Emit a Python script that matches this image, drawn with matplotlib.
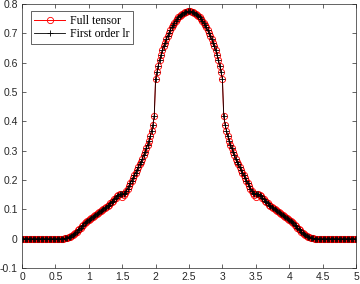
import matplotlib
matplotlib.use('Agg')
import matplotlib.pyplot as plt
import matplotlib.ticker as tkr
import numpy as np

# DATA
x_min, x_max, n_points = 0.0, 5.0, 251

full_tensor = [
    0, 0, 0, 0, 0, 0, 0, 0, 0, 0,
    0, 0, 0, 0, 0, 0, 0, 0, 0, 0,
    0, 0, 0, 0, 0, 0, 0, 0, 0, 0,
    0, 0.000, 0.001, 0.002, 0.003, 0.005, 0.007, 0.010, 0.013, 0.017,
    0.020, 0.024, 0.028, 0.032, 0.037, 0.042, 0.047, 0.052, 0.056, 0.060,
    0.064, 0.067, 0.070, 0.073, 0.077, 0.080, 0.083, 0.086, 0.090, 0.093,
    0.097, 0.101, 0.104, 0.108, 0.112, 0.116, 0.120, 0.125, 0.130, 0.135,
    0.140, 0.145, 0.149, 0.152, 0.152, 0.143, 0.150, 0.156, 0.163, 0.171,
    0.180, 0.189, 0.198, 0.207, 0.216, 0.225, 0.234, 0.243, 0.253, 0.262,
    0.272, 0.284, 0.296, 0.308, 0.320, 0.334, 0.350, 0.368, 0.389, 0.418,
    0.545, 0.568, 0.590, 0.609, 0.626, 0.642, 0.656, 0.668, 0.680, 0.691,
    0.701, 0.711, 0.720, 0.728, 0.736, 0.743, 0.749, 0.755, 0.760, 0.764,
    0.767, 0.770, 0.772, 0.774, 0.775, 0.775, 0.775, 0.774, 0.772, 0.770,
    0.767, 0.764, 0.760, 0.755, 0.749, 0.743, 0.736, 0.728, 0.720, 0.711,
    0.701, 0.691, 0.680, 0.668, 0.656, 0.642, 0.626, 0.609, 0.590, 0.568,
    0.545, 0.418, 0.389, 0.368, 0.350, 0.334, 0.320, 0.308, 0.296, 0.284,
    0.272, 0.262, 0.253, 0.243, 0.234, 0.225, 0.216, 0.207, 0.198, 0.189,
    0.180, 0.171, 0.163, 0.156, 0.150, 0.143, 0.152, 0.152, 0.149, 0.145,
    0.140, 0.135, 0.130, 0.125, 0.120, 0.116, 0.112, 0.108, 0.104, 0.101,
    0.097, 0.093, 0.090, 0.086, 0.083, 0.080, 0.077, 0.073, 0.070, 0.067,
    0.064, 0.060, 0.056, 0.052, 0.047, 0.042, 0.037, 0.032, 0.028, 0.024,
    0.020, 0.017, 0.013, 0.010, 0.007, 0.005, 0.003, 0.002, 0.001, 0.000,
    0, 0, 0, 0, 0, 0, 0, 0, 0, 0,
    0, 0, 0, 0, 0, 0, 0, 0, 0, 0,
    0, 0, 0, 0, 0, 0, 0, 0, 0, 0,
    0,
]

first_order_lr = [
    0, 0, 0, 0, 0, 0, 0, 0, 0, 0,
    0, 0, 0, 0, 0, 0, 0, 0, 0, 0,
    0, 0, 0, 0, 0, 0, 0, 0, 0, 0,
    0, 0.000, 0.001, 0.002, 0.003, 0.005, 0.007, 0.010, 0.013, 0.017,
    0.020, 0.024, 0.028, 0.032, 0.037, 0.042, 0.047, 0.052, 0.056, 0.060,
    0.064, 0.067, 0.070, 0.073, 0.077, 0.080, 0.083, 0.086, 0.090, 0.093,
    0.097, 0.101, 0.104, 0.108, 0.112, 0.116, 0.120, 0.125, 0.130, 0.135,
    0.140, 0.145, 0.149, 0.152, 0.153, 0.151, 0.152, 0.156, 0.163, 0.171,
    0.180, 0.189, 0.198, 0.207, 0.216, 0.225, 0.234, 0.243, 0.253, 0.262,
    0.272, 0.284, 0.296, 0.308, 0.320, 0.334, 0.350, 0.368, 0.389, 0.418,
    0.545, 0.568, 0.590, 0.609, 0.626, 0.642, 0.656, 0.668, 0.680, 0.691,
    0.701, 0.711, 0.720, 0.728, 0.736, 0.743, 0.749, 0.755, 0.760, 0.764,
    0.767, 0.770, 0.772, 0.774, 0.775, 0.775, 0.775, 0.774, 0.772, 0.770,
    0.767, 0.764, 0.760, 0.755, 0.749, 0.743, 0.736, 0.728, 0.720, 0.711,
    0.701, 0.691, 0.680, 0.668, 0.656, 0.642, 0.626, 0.609, 0.590, 0.568,
    0.545, 0.418, 0.389, 0.368, 0.350, 0.334, 0.320, 0.308, 0.296, 0.284,
    0.272, 0.262, 0.253, 0.243, 0.234, 0.225, 0.216, 0.207, 0.198, 0.189,
    0.180, 0.171, 0.163, 0.156, 0.152, 0.151, 0.153, 0.152, 0.149, 0.145,
    0.140, 0.135, 0.130, 0.125, 0.120, 0.116, 0.112, 0.108, 0.104, 0.101,
    0.097, 0.093, 0.090, 0.086, 0.083, 0.080, 0.077, 0.073, 0.070, 0.067,
    0.064, 0.060, 0.056, 0.052, 0.047, 0.042, 0.037, 0.032, 0.028, 0.024,
    0.020, 0.017, 0.013, 0.010, 0.007, 0.005, 0.003, 0.002, 0.001, 0.000,
    0, 0, 0, 0, 0, 0, 0, 0, 0, 0,
    0, 0, 0, 0, 0, 0, 0, 0, 0, 0,
    0, 0, 0, 0, 0, 0, 0, 0, 0, 0,
    0,
]

x_ticks = [0, 0.5, 1, 1.5, 2, 2.5, 3, 3.5, 4, 4.5, 5]
y_ticks = [-0.1, 0, 0.1, 0.2, 0.3, 0.4, 0.5, 0.6, 0.7, 0.8]

# PLOT
plt.rcParams['axes.unicode_minus'] = False
plt.rcParams['font.family'] = ['Liberation Sans', 'DejaVu Sans']

x = np.linspace(x_min, x_max, n_points)

fig = plt.figure(figsize=(3.6, 2.84), dpi=100)
ax = fig.add_axes([22 / 360, 1 - 268 / 284, 334 / 360, 264 / 284])

ax.plot(x, full_tensor, color='red', linewidth=0.7, marker='o',
        markersize=4.5, markerfacecolor='none', markeredgewidth=0.6,
        label='Full tensor')
ax.plot(x, first_order_lr, color='black', linewidth=0.6, marker='+',
        markersize=4.5, markeredgewidth=0.6, label='First order lr')

ax.set_xlim(0, 5)
ax.set_ylim(-0.1, 0.8)
ax.set_xticks(x_ticks)
ax.set_yticks(y_ticks)
ax.xaxis.set_major_formatter(tkr.FuncFormatter(lambda v, pos: '{:g}'.format(v)))
ax.yaxis.set_major_formatter(tkr.FuncFormatter(lambda v, pos: '{:g}'.format(round(v, 2))))

# matlab-like box with inward ticks on all sides
axis_grey = '#262626'
plt.setp(ax.spines.values(), color=axis_grey, linewidth=0.5)
ax.tick_params(direction='in', length=3, width=0.5, colors=axis_grey,
               top=True, right=True, labelsize=7.5, pad=3)

lg = ax.legend(loc='upper left', bbox_to_anchor=(0.026, 0.973),
               prop={'family': 'Liberation Serif', 'size': 8.5},
               fancybox=False, edgecolor=axis_grey, framealpha=1,
               handlelength=2.6, borderpad=0.3, labelspacing=0.15,
               handletextpad=0.4, borderaxespad=0)
lg.get_frame().set_linewidth(0.5)

fig.savefig('out.png', dpi=100)
